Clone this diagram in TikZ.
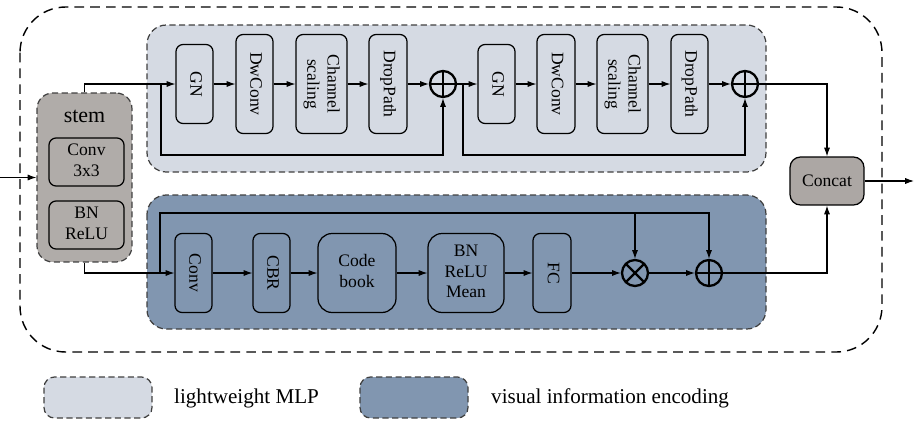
\documentclass[tikz,border=0pt]{standalone}
\usepackage{fontspec}
\setmainfont{Liberation Serif}
\usepackage{graphicx}
\usetikzlibrary{arrows.meta, calc, positioning}
\definecolor{mlpfill}{HTML}{D5DAE3}
\definecolor{vieFill}{HTML}{8196B0}
\definecolor{stemgrau}{HTML}{B0ACA9}
\definecolor{catgrau}{HTML}{ACA7A4}
\newcommand{\vtext}[1]{\rotatebox{-90}{\begin{tabular}{@{}c@{}}#1\end{tabular}}}
\newcommand{\htext}[1]{\begin{tabular}{@{}c@{}}#1\end{tabular}}

\begin{document}
\begin{tikzpicture}[x=0.02cm, y=-0.02cm,
    blk/.style={draw, line width=0.7pt, rounded corners=4pt, inner sep=0pt,
                font=\fontsize{10}{11.5}\selectfont},
    arr/.style={-{Latex[length=5pt, width=3.5pt]}, line width=0.6pt},
    opplus/.style={circle, draw, line width=1.3pt, minimum size=0.52cm, inner sep=0pt,
                   path picture={\draw[line width=1.3pt]
                     (path picture bounding box.north) -- (path picture bounding box.south)
                     (path picture bounding box.west) -- (path picture bounding box.east);}},
    optimes/.style={circle, draw, line width=1.3pt, minimum size=0.52cm, inner sep=0pt,
                   path picture={\draw[line width=1.3pt]
                     (path picture bounding box.north west) -- (path picture bounding box.south east)
                     (path picture bounding box.south west) -- (path picture bounding box.north east);}},
    rahmen/.style={draw=black!75, line width=0.7pt, dash pattern=on 3.5pt off 2pt}]
      \useasboundingbox (0,0) rectangle (914,420);

      % --- Rahmen ---
      \draw[line width=0.8pt, dash pattern=on 5.5pt off 3.5pt, rounded corners=26pt]
        (20,7) rectangle (882,352);
      \draw[rahmen, fill=mlpfill, rounded corners=11pt] (147,25) rectangle (766,172);
      \draw[rahmen, fill=vieFill, rounded corners=11pt] (147,195) rectangle (766,329);

      % --- stem ---
      \node[blk, fill=stemgrau, rahmen, rounded corners=9pt, minimum width=1.9cm,
            minimum height=3.38cm] (stem) at (84.5,177.5) {};
      \node[font=\fontsize{12.5}{14}\selectfont] (stemlbl) at (84.5,116) {stem};
      \node[blk, fill=stemgrau, minimum width=1.5cm, minimum height=0.96cm]
        (conv3) at (86.5,162) {\htext{Conv\\3x3}};
      \node[blk, fill=stemgrau, minimum width=1.5cm, minimum height=0.96cm]
        (bnrelu) at (86.5,225) {\htext{BN\\ReLU}};

      % --- obere Reihe (MLP) ---
      \node[blk, fill=mlpfill, minimum width=0.74cm, minimum height=1.58cm] (gna) at (194.5,84) {\vtext{GN}};
      \node[blk, fill=mlpfill, minimum width=0.74cm, minimum height=1.98cm] (dwa) at (254.5,84) {\vtext{DwConv}};
      \node[blk, fill=mlpfill, minimum width=1.02cm, minimum height=1.98cm] (csa) at (321.5,84) {\vtext{Channel\\scaling}};
      \node[blk, fill=mlpfill, minimum width=0.76cm, minimum height=1.98cm] (dpa) at (388,84) {\vtext{DropPath}};
      \node[opplus] (pa) at (443,84) {};
      \node[blk, fill=mlpfill, minimum width=0.74cm, minimum height=1.58cm] (gnb) at (496.5,84) {\vtext{GN}};
      \node[blk, fill=mlpfill, minimum width=0.76cm, minimum height=1.98cm] (dwb) at (556,84) {\vtext{DwConv}};
      \node[blk, fill=mlpfill, minimum width=1.02cm, minimum height=1.98cm] (csb) at (622.5,84) {\vtext{Channel\\scaling}};
      \node[blk, fill=mlpfill, minimum width=0.74cm, minimum height=1.98cm] (dpb) at (689.5,84) {\vtext{DropPath}};
      \node[opplus] (pb) at (745,84) {};

      % --- untere Reihe ---
      \node[blk, fill=vieFill, minimum width=0.74cm, minimum height=1.58cm] (conv) at (193.5,273) {\vtext{Conv}};
      \node[blk, fill=vieFill, minimum width=0.74cm, minimum height=1.58cm] (cbr) at (271.5,273) {\vtext{CBR}};
      \node[blk, fill=vieFill, rounded corners=8pt, minimum width=1.56cm, minimum height=1.58cm] (code) at (357,273) {\htext{Code\\book}};
      \node[blk, fill=vieFill, rounded corners=8pt, minimum width=1.52cm, minimum height=1.58cm] (brm) at (466,273) {\htext{BN\\ReLU\\Mean}};
      \node[blk, fill=vieFill, minimum width=0.76cm, minimum height=1.58cm] (fc) at (552,273) {\vtext{FC}};
      \node[optimes] (mul) at (635,273) {};
      \node[opplus] (add) at (709,273) {};

      % --- Concat ---
      \node[blk, fill=catgrau, rounded corners=6pt, minimum width=1.48cm, minimum height=0.96cm,
            font=\fontsize{10}{12}\selectfont] (concat) at (827,181) {Concat};

      % Hilfspunkte
      \coordinate (ein) at (0,177.5);
      \coordinate (aus) at (914,181);
      \coordinate (ska) at (161,84);
      \coordinate (skab) at (161,155);
      \coordinate (skb) at (463,84);
      \coordinate (skbb) at (463,155);
      \coordinate (skc) at (160,273);
      \coordinate (skct) at (160,213);

      % Pfeile
      \draw[arr] (ein) -- (stem);
      \draw[arr] (stem.north) |- (gna);
      \draw[arr] (gna) -- (dwa);
      \draw[arr] (dwa) -- (csa);
      \draw[arr] (csa) -- (dpa);
      \draw[arr] (dpa) -- (pa);
      \draw[arr] (ska) -- (skab) -| (pa);
      \draw[arr] (pa) -- (gnb);
      \draw[arr] (gnb) -- (dwb);
      \draw[arr] (dwb) -- (csb);
      \draw[arr] (csb) -- (dpb);
      \draw[arr] (dpb) -- (pb);
      \draw[arr] (skb) -- (skbb) -| (pb);
      \draw[arr] (pb) -| (concat);

      \draw[arr] (stem.south) |- (conv);
      \draw[arr] (conv) -- (cbr);
      \draw[arr] (cbr) -- (code);
      \draw[arr] (code) -- (brm);
      \draw[arr] (brm) -- (fc);
      \draw[arr] (fc) -- (mul);
      \draw[arr] (mul) -- (add);
      \draw[arr] (skc) -- (skct) -| (add);
      \draw[arr] (skct -| mul) -- (mul);
      \draw[arr] (add) -| (concat);
      \draw[arr] (concat) -- (aus);

      % --- Legende ---
      \draw[rahmen, fill=mlpfill, rounded corners=6pt] (44,377) rectangle (152,418);
      \draw[rahmen, fill=vieFill, rounded corners=6pt] (360,377) rectangle (468,418);
      \node[anchor=west, font=\fontsize{12}{14}\selectfont] (lega) at (168,398) {lightweight MLP};
      \node[anchor=west, font=\fontsize{12}{14}\selectfont] (legb) at (485,398) {visual information encoding};
    \end{tikzpicture}
\end{document}
